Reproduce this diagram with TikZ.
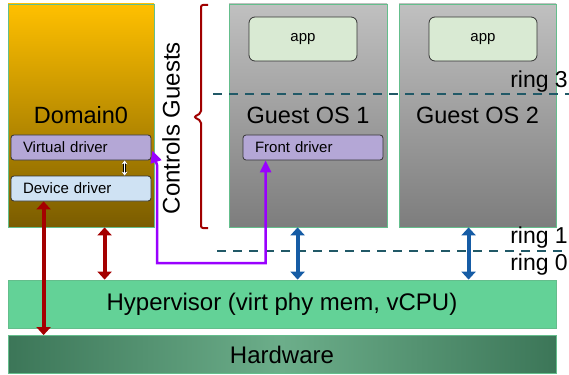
\documentclass[tikz,border=0pt]{standalone}
\usepackage{fontspec}
\setmainfont{Liberation Sans}
\usetikzlibrary{arrows.meta, calc, positioning}
\definecolor{domtop}{RGB}{255,192,0}
\definecolor{dombot}{RGB}{122,92,0}
\definecolor{guesttop}{RGB}{192,192,192}
\definecolor{guestbot}{RGB}{125,125,125}
\definecolor{boxedge}{RGB}{100,190,140}
\definecolor{hypfill}{RGB}{99,210,151}
\definecolor{hwdark}{RGB}{60,118,88}
\definecolor{hwlight}{RGB}{108,174,138}
\definecolor{appfill}{RGB}{217,234,211}
\definecolor{drvpurple}{RGB}{180,167,214}
\definecolor{drvblue}{RGB}{207,226,243}
\definecolor{ringteal}{RGB}{33,89,103}
\definecolor{bracered}{RGB}{160,0,0}
\definecolor{ctrlviolet}{RGB}{153,0,255}
\definecolor{linkred}{RGB}{165,0,0}
\definecolor{linkblue}{RGB}{22,92,165}

\begin{document}
\begin{tikzpicture}[x=1pt, y=-1pt,
    vmbox/.style={draw=boxedge, line width=0.8pt, inner sep=0pt, font=\fontsize{23.5}{26}\selectfont},
    layer/.style={draw=boxedge, line width=0.8pt, minimum width=548pt, inner sep=0pt, font=\fontsize{24}{28}\selectfont},
    drvbox/.style={draw=black!80, rounded corners=3pt, line width=0.8pt, minimum height=25pt,
      text width=116pt, inner xsep=12pt, inner ysep=0pt, align=left, font=\fontsize{15}{17}\selectfont},
    appbox/.style={draw=black!80, fill=appfill, rounded corners=6pt, line width=0.8pt,
      minimum width=108pt, minimum height=44pt, inner sep=0pt, font=\fontsize{15}{17}\selectfont},
    ringline/.style={ringteal, line width=2pt, dash pattern=on 9pt off 7pt},
    ringlabel/.style={anchor=base east, inner sep=0pt, font=\fontsize{23}{26}\selectfont},
    linkarrow/.style={#1, line width=4pt, {Triangle[width=14pt,length=8pt]}-{Triangle[width=14pt,length=8pt]}},
    ctrl/.style={ctrlviolet, line width=2.5pt, {Triangle[width=11pt,length=12pt]}-{Triangle[width=11pt,length=12pt]}}]
    \useasboundingbox (0,0) rectangle (569,374);

    % Domain0 and guests
    \node[vmbox, top color=domtop, bottom color=dombot, minimum width=146pt, minimum height=223pt] (dom0) at (81,115.5) {Domain0};
    \node[vmbox, top color=guesttop, bottom color=guestbot, minimum width=158pt, minimum height=223pt] (guest1) at (308,115.5) {Guest OS 1};
    \node[vmbox, top color=guesttop, bottom color=guestbot, minimum width=157pt, minimum height=223pt] (guest2) at (477.5,115.5) {Guest OS 2};

    % Drivers
    \node[drvbox, fill=drvpurple] (vd) at (81,147.5) {Virtual driver};
    \node[drvbox, fill=drvblue] (dd) at (81,188.5) {Device driver};
    \node[drvbox, fill=drvpurple] (fd) at (313,147.5) {Front driver};

    % Apps
    \node[appbox] (app1) at (303,39) {app};
    \node[appbox] (app2) at (483,39) {app};

    % Layers
    \node[layer, fill=hypfill, minimum height=48pt] (hyp) at (282,304) {Hypervisor (virt phy mem, vCPU)};
    \node[layer, shading=axis, left color=hwdark, right color=hwdark, middle color=hwlight, minimum height=38pt] (hw) at (282,354.5) {Hardware};

    % Controls Guests
    \node[rotate=90, inner sep=0pt, font=\fontsize{24}{28}\selectfont] (ctrltext) at (171,128) {Controls Guests};
    \draw[bracered, line width=2pt, rounded corners=2pt] (208,5) -- (201,5) -- (201,113) -- (194,117) -- (201,121) -- (201,228) -- (208,228);

    % Rings
    \draw[ringline] (213,94) -- (569,94);
    \draw[ringline] (217,251) -- (569,251);
    \node[ringlabel] (ring3) at (568,88) {ring 3};
    \node[ringlabel] (ring1) at (568,243) {ring 1};
    \node[ringlabel] (ring0) at (568,270) {ring 0};

    % Links
    \draw[linkarrow=linkred] ([xshift=33pt]dd.south west) -- ([xshift=33pt]dd.south west |- hw.north);
    \draw[linkarrow=linkred] ([xshift=97pt]dom0.south west) -- ([xshift=97pt]dom0.south west |- hyp.north);
    \draw[linkarrow=linkblue] ([xshift=69pt]guest1.south west) -- ([xshift=69pt]guest1.south west |- hyp.north);
    \draw[linkarrow=linkblue] ([xshift=70pt]guest2.south west) -- ([xshift=70pt]guest2.south west |- hyp.north);
    \draw[white, line width=1.3pt, preaction={draw=black, line width=2.3pt},
      {Stealth[length=4pt,width=6pt]}-{Stealth[length=4pt,width=6pt]}]
      ([xshift=114pt]dd.north west) -- ([xshift=114pt]vd.south west);
    \draw[ctrl] ([xshift=1pt, yshift=-3pt]vd.east) -- (157,165) -- (157,263) -| ([xshift=23pt]fd.south west);
\end{tikzpicture}
\end{document}
